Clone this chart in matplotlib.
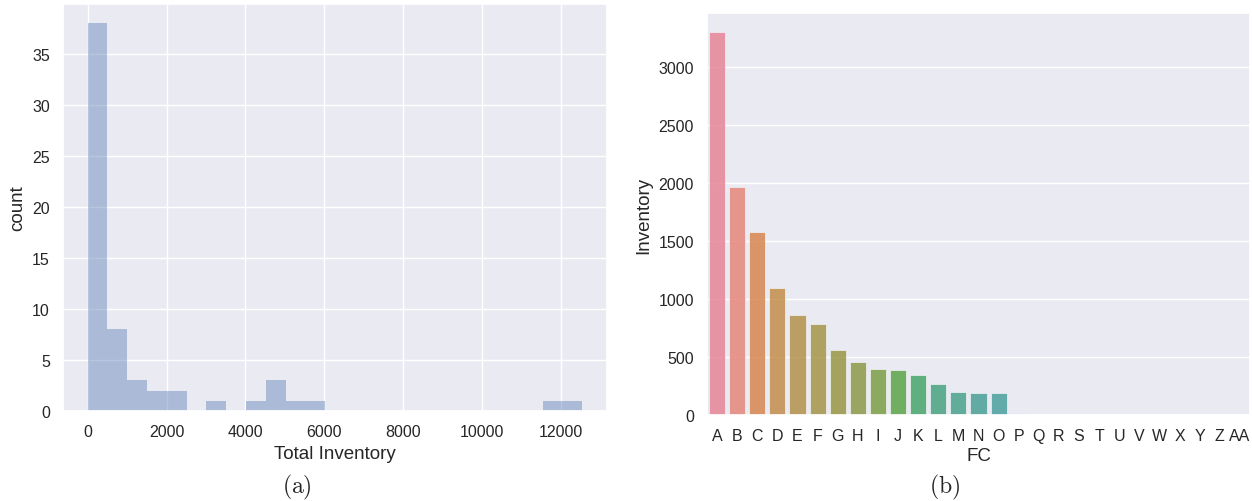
import matplotlib
matplotlib.use('Agg')
import matplotlib.pyplot as plt
import numpy as np
import seaborn as sns

# histogram of total inventory (bin width ~502, 25 bins)
bin_edges = np.linspace(0, 12550, 26)
counts = [38, 8, 3, 2, 2, 0, 1, 0, 1, 3, 1, 1, 0, 0, 0, 0, 0, 0, 0, 0, 0, 0, 0, 1, 1]

# inventory per FC
fcs = ['A', 'B', 'C', 'D', 'E', 'F', 'G', 'H', 'I', 'J', 'K', 'L', 'M', 'N',
       'O', 'P', 'Q', 'R', 'S', 'T', 'U', 'V', 'W', 'X', 'Y', 'Z', 'AA']
inventory = [3300, 1963, 1575, 1092, 862, 784, 560, 454, 397, 388, 348, 267,
             201, 192, 192, 8, 0, 0, 0, 0, 0, 0, 0, 0, 0, 0, 0]

sns.set_theme(style='darkgrid')
plt.rcParams['font.family'] = ['Liberation Sans', 'DejaVu Sans']
plt.rcParams['mathtext.fontset'] = 'cm'

fig = plt.figure(figsize=(12.52, 5.02), dpi=100)
ax1 = fig.add_axes([63 / 1252, 90 / 502, 544 / 1252, 407 / 502])
ax2 = fig.add_axes([707 / 1252, 86 / 502, 543 / 1252, 402 / 502])

# left: histogram
ax1.bar(bin_edges[:-1], counts, width=np.diff(bin_edges), align='edge',
        color='#4C72B0', alpha=0.4, linewidth=0)
ax1.set_xlim(-627, 13177)
ax1.set_ylim(0, 39.9)
ax1.set_xticks([0, 2000, 4000, 6000, 8000, 10000, 12000])
ax1.set_yticks([0, 5, 10, 15, 20, 25, 30, 35])
ax1.set_xlabel('Total Inventory', fontsize=13.5, labelpad=4)
ax1.set_ylabel('count', fontsize=13.5)
ax1.tick_params(labelsize=11.5)

# right: bar plot
palette = sns.color_palette('husl', len(fcs))
sns.barplot(x=fcs, y=inventory, hue=fcs, palette=palette, saturation=0.75,
            legend=False, ax=ax2, alpha=0.82, edgecolor='#f4f4f8', linewidth=0.6)
ax2.set_xlim(-0.5, len(fcs) - 0.5)
ax2.set_ylim(0, 3465)
ax2.set_xlabel('FC', fontsize=13.5, labelpad=3)
ax2.set_ylabel('Inventory', fontsize=13.5)
ax2.tick_params(labelsize=11.5)

# sub-captions
fig.text(297 / 1252, 15 / 502, r'$\mathrm{(a)}$', ha='center', va='center', fontsize=17)
fig.text(945 / 1252, 15 / 502, r'$\mathrm{(b)}$', ha='center', va='center', fontsize=17)

fig.savefig('out.png', dpi=100)
